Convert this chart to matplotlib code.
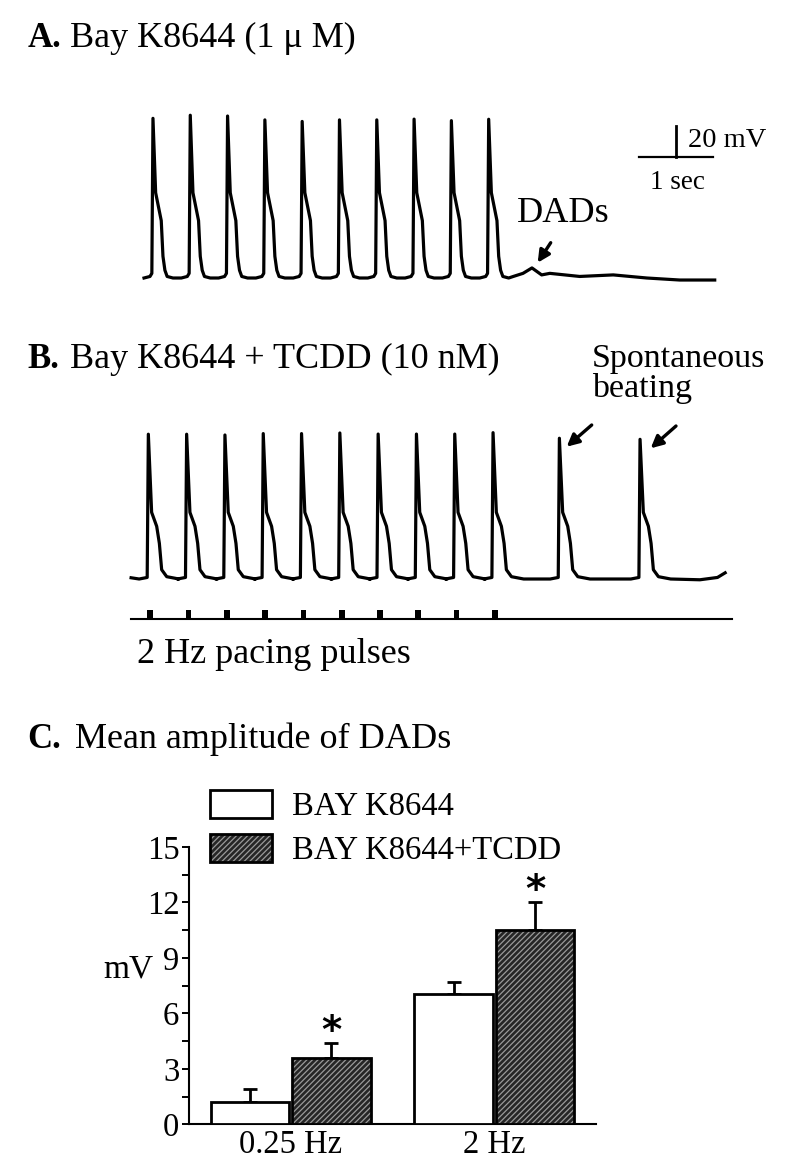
import numpy as np
import matplotlib
matplotlib.use('Agg')
import matplotlib.pyplot as plt
from matplotlib.patches import Patch
from matplotlib.ticker import MultipleLocator

plt.rcParams['font.family'] = ['Liberation Serif', 'DejaVu Serif']
plt.rcParams['hatch.linewidth'] = 0.9

# ---- data ----
# panel A: 2 Hz paced beats (peak times, s) and peak voltages (mV)
beats_a = [0.0, 0.5, 1.0, 1.5, 2.0, 2.5, 3.0, 3.5, 4.0, 4.5]
peaks_a = [23, 25, 24.5, 22, 21, 22, 22, 22.5, 21.5, 22.4]
# action potential shape, time from peak (ms)
ap_t_a = [-120, -40, -15, 0, 36, 111, 134, 160, 190, 268]
ap_v_a = [-80, -79, -77, None, -25, -43, -66, -75, -79, -80]
# trace after pacing stops (with the DAD)
tail_t_a = [4.83, 4.96, 5.08, 5.21, 5.32, 5.72, 6.17, 6.62, 7.06, 7.53]
tail_v_a = [-79, -77, -73.5, -78, -77, -79, -78, -80, -81.3, -81.3]

# panel B: paced beats, then two spontaneous beats
beats_b = [0.0, 0.5, 1.0, 1.5, 2.0, 2.5, 3.0, 3.5, 4.0, 4.5, 5.366, 6.419]
peaks_b = [13.4, 13.4, 12.9, 13.8, 13.8, 14.2, 13.5, 13.5, 13.5, 14.4, 10.8, 10.1]
paced_b = [0.0, 0.5, 1.0, 1.5, 2.0, 2.5, 3.0, 3.5, 4.0, 4.5]
ap_t_b = [-120, -15, 0, 43, 109, 144, 174, 240, 400]
ap_v_b = [-80, -79, None, -37, -46, -57, -74, -78.5, -80]
tail_t_b = [7.2, 7.43, 7.53]
tail_v_b = [-80.5, -79, -76]

# panel C: mean DAD amplitude
groups = ['0.25 Hz', '2 Hz']
bay = [1.22, 7.03]
bay_err = [0.67, 0.65]
tcdd = [3.57, 10.5]
tcdd_err = [0.84, 1.5]

W, H = 800, 1174
fig = plt.figure(figsize=(W / 100, H / 100), dpi=100)


def px_axes(x0, y0, x1, y1):
    return fig.add_axes([x0 / W, 1 - y1 / H, (x1 - x0) / W, (y1 - y0) / H])


def ftext(x, y, s, **kw):
    kw.setdefault('va', 'baseline')
    fig.text(x / W, 1 - y / H, s, **kw)


def arrow(x0, y0, x1, y1):
    fig.add_artist(plt.Annotation('', xy=(x1 / W, 1 - y1 / H), xytext=(x0 / W, 1 - y0 / H),
                                  xycoords='figure fraction', textcoords='figure fraction',
                                  arrowprops=dict(arrowstyle='-|>', color='black', lw=2.4,
                                                  mutation_scale=18, shrinkA=0, shrinkB=0)))


def build_trace(beats, peaks, ap_t, ap_v, tail_t, tail_v):
    t_all, v_all = [], []
    for b, p in zip(beats, peaks):
        for dt, v in zip(ap_t, ap_v):
            t_all.append(b + dt / 1000)
            v_all.append(p if v is None else v)
    return t_all + tail_t, v_all + tail_v


# ---- A ----
ax_a = px_axes(100, 100, 780, 300)
ax_a.set_xlim(-0.710, 8.405)
ax_a.set_ylim(-94.19, 34.84)
ax_a.axis('off')
ta, va = build_trace(beats_a, peaks_a, ap_t_a, ap_v_a, tail_t_a, tail_v_a)
ax_a.plot(ta, va, color='black', lw=2.3, solid_joinstyle='round')
# scale bar 1 s / 20 mV
ax_a.plot([6.51, 7.51], [-2.1, -2.1], color='black', lw=1.6)
ax_a.plot([7.01, 7.01], [-2.1, 17.9], color='black', lw=2.0)

ftext(28, 46.7, 'A.', fontsize=25, fontweight='bold')
ftext(70, 46.7, 'Bay K8644 (1 μ M)', fontsize=26)
ftext(688, 146.7, '20 mV', fontsize=20.5)
ftext(650, 189, '1 sec', fontsize=19.5)
ftext(517, 221.7, 'DADs', fontsize=26)
arrow(550.7, 242.7, 537.7, 262.7)

# ---- B ----
ax_b = px_axes(100, 400, 780, 640)
ax_b.set_xlim(-0.631, 8.246)
ax_b.set_ylim(-119.35, 35.48)
ax_b.axis('off')
tb, vb = build_trace(beats_b, peaks_b, ap_t_b, ap_v_b, tail_t_b, tail_v_b)
tb = [-0.225] + tb
vb = [-79.2] + vb
ax_b.plot(tb, vb, color='black', lw=2.3, solid_joinstyle='round')
# pacing pulses
ax_b.plot([-0.225, 7.62], [-106, -106], color='black', lw=1.5)
ax_b.bar([p - 0.013 for p in paced_b], [6] * len(paced_b), width=0.075, bottom=-106,
         align='edge', color='black')

ftext(27, 368.3, 'B.', fontsize=25, fontweight='bold')
ftext(70, 368.3, 'Bay K8644 + TCDD (10 nM)', fontsize=26)
ftext(592, 366.7, 'Spontaneous', fontsize=24.5)
ftext(592, 397.3, 'beating', fontsize=24.5)
arrow(591.7, 425, 566.7, 446.7)
arrow(676, 426, 650.7, 448.3)
ftext(137, 663, '2 Hz pacing pulses', fontsize=26)

# ---- C ----
ftext(27, 748, 'C.', fontsize=25, fontweight='bold')
ftext(75, 748, 'Mean amplitude of DADs', fontsize=26)

ax_c = px_axes(189, 846.8, 596, 1124.3)
x = np.arange(len(groups))
bw = 0.385
ax_c.bar(x - 0.2, bay, bw, color='white', edgecolor='black', lw=2, zorder=3)
ax_c.bar(x + 0.2, tcdd, bw, color='#262626', edgecolor='#9a9a9a', hatch='//////', lw=0, zorder=3)
ax_c.bar(x + 0.2, tcdd, bw, fill=False, edgecolor='black', lw=2, zorder=4)
ax_c.errorbar(x - 0.2, bay, yerr=[[0, 0], bay_err], fmt='none', ecolor='black',
              elinewidth=2, capsize=4.7, capthick=2, zorder=2)
ax_c.errorbar(x + 0.2, tcdd, yerr=[[0, 0], tcdd_err], fmt='none', ecolor='black',
              elinewidth=2, capsize=4.7, capthick=2, zorder=2)
for xi, v, e in zip(x, tcdd, tcdd_err):
    ax_c.text(xi + 0.2, v + e + 0.6, '*', ha='center', va='center', fontsize=28,
              fontweight='bold', family='DejaVu Sans')

ax_c.set_xlim(-0.5, 1.5)
ax_c.set_ylim(0, 15)
ax_c.set_yticks(range(0, 16, 3))
ax_c.yaxis.set_minor_locator(MultipleLocator(1.5))
ax_c.set_xticks(x)
ax_c.set_xticklabels(groups, fontsize=23.5)
ax_c.tick_params(axis='x', length=0, pad=4)
ax_c.tick_params(axis='y', which='both', direction='out', length=5, width=1.4, labelsize=23.5, pad=2)
for s in ['top', 'right']:
    ax_c.spines[s].set_visible(False)
for s in ['left', 'bottom']:
    ax_c.spines[s].set_linewidth(1.5)
ax_c.set_ylabel('mV', rotation=0, fontsize=24, ha='center', va='center')
ax_c.yaxis.set_label_coords(-0.15, 0.56)

handles = [Patch(facecolor='white', edgecolor='black', lw=2),
           (Patch(facecolor='#262626', edgecolor='#9a9a9a', hatch='//////', lw=0),
            Patch(fill=False, edgecolor='black', lw=2))]
fig.legend(handles, ['BAY K8644', 'BAY K8644+TCDD'], loc='upper left',
           bbox_to_anchor=(210 / W, 1 - 790 / H), bbox_transform=fig.transFigure,
           frameon=False, borderpad=0, borderaxespad=0, handlelength=1.9, handleheight=0.92,
           handletextpad=0.6, labelspacing=0.38, prop={'size': 23.5})

fig.savefig('out.png', dpi=100)
